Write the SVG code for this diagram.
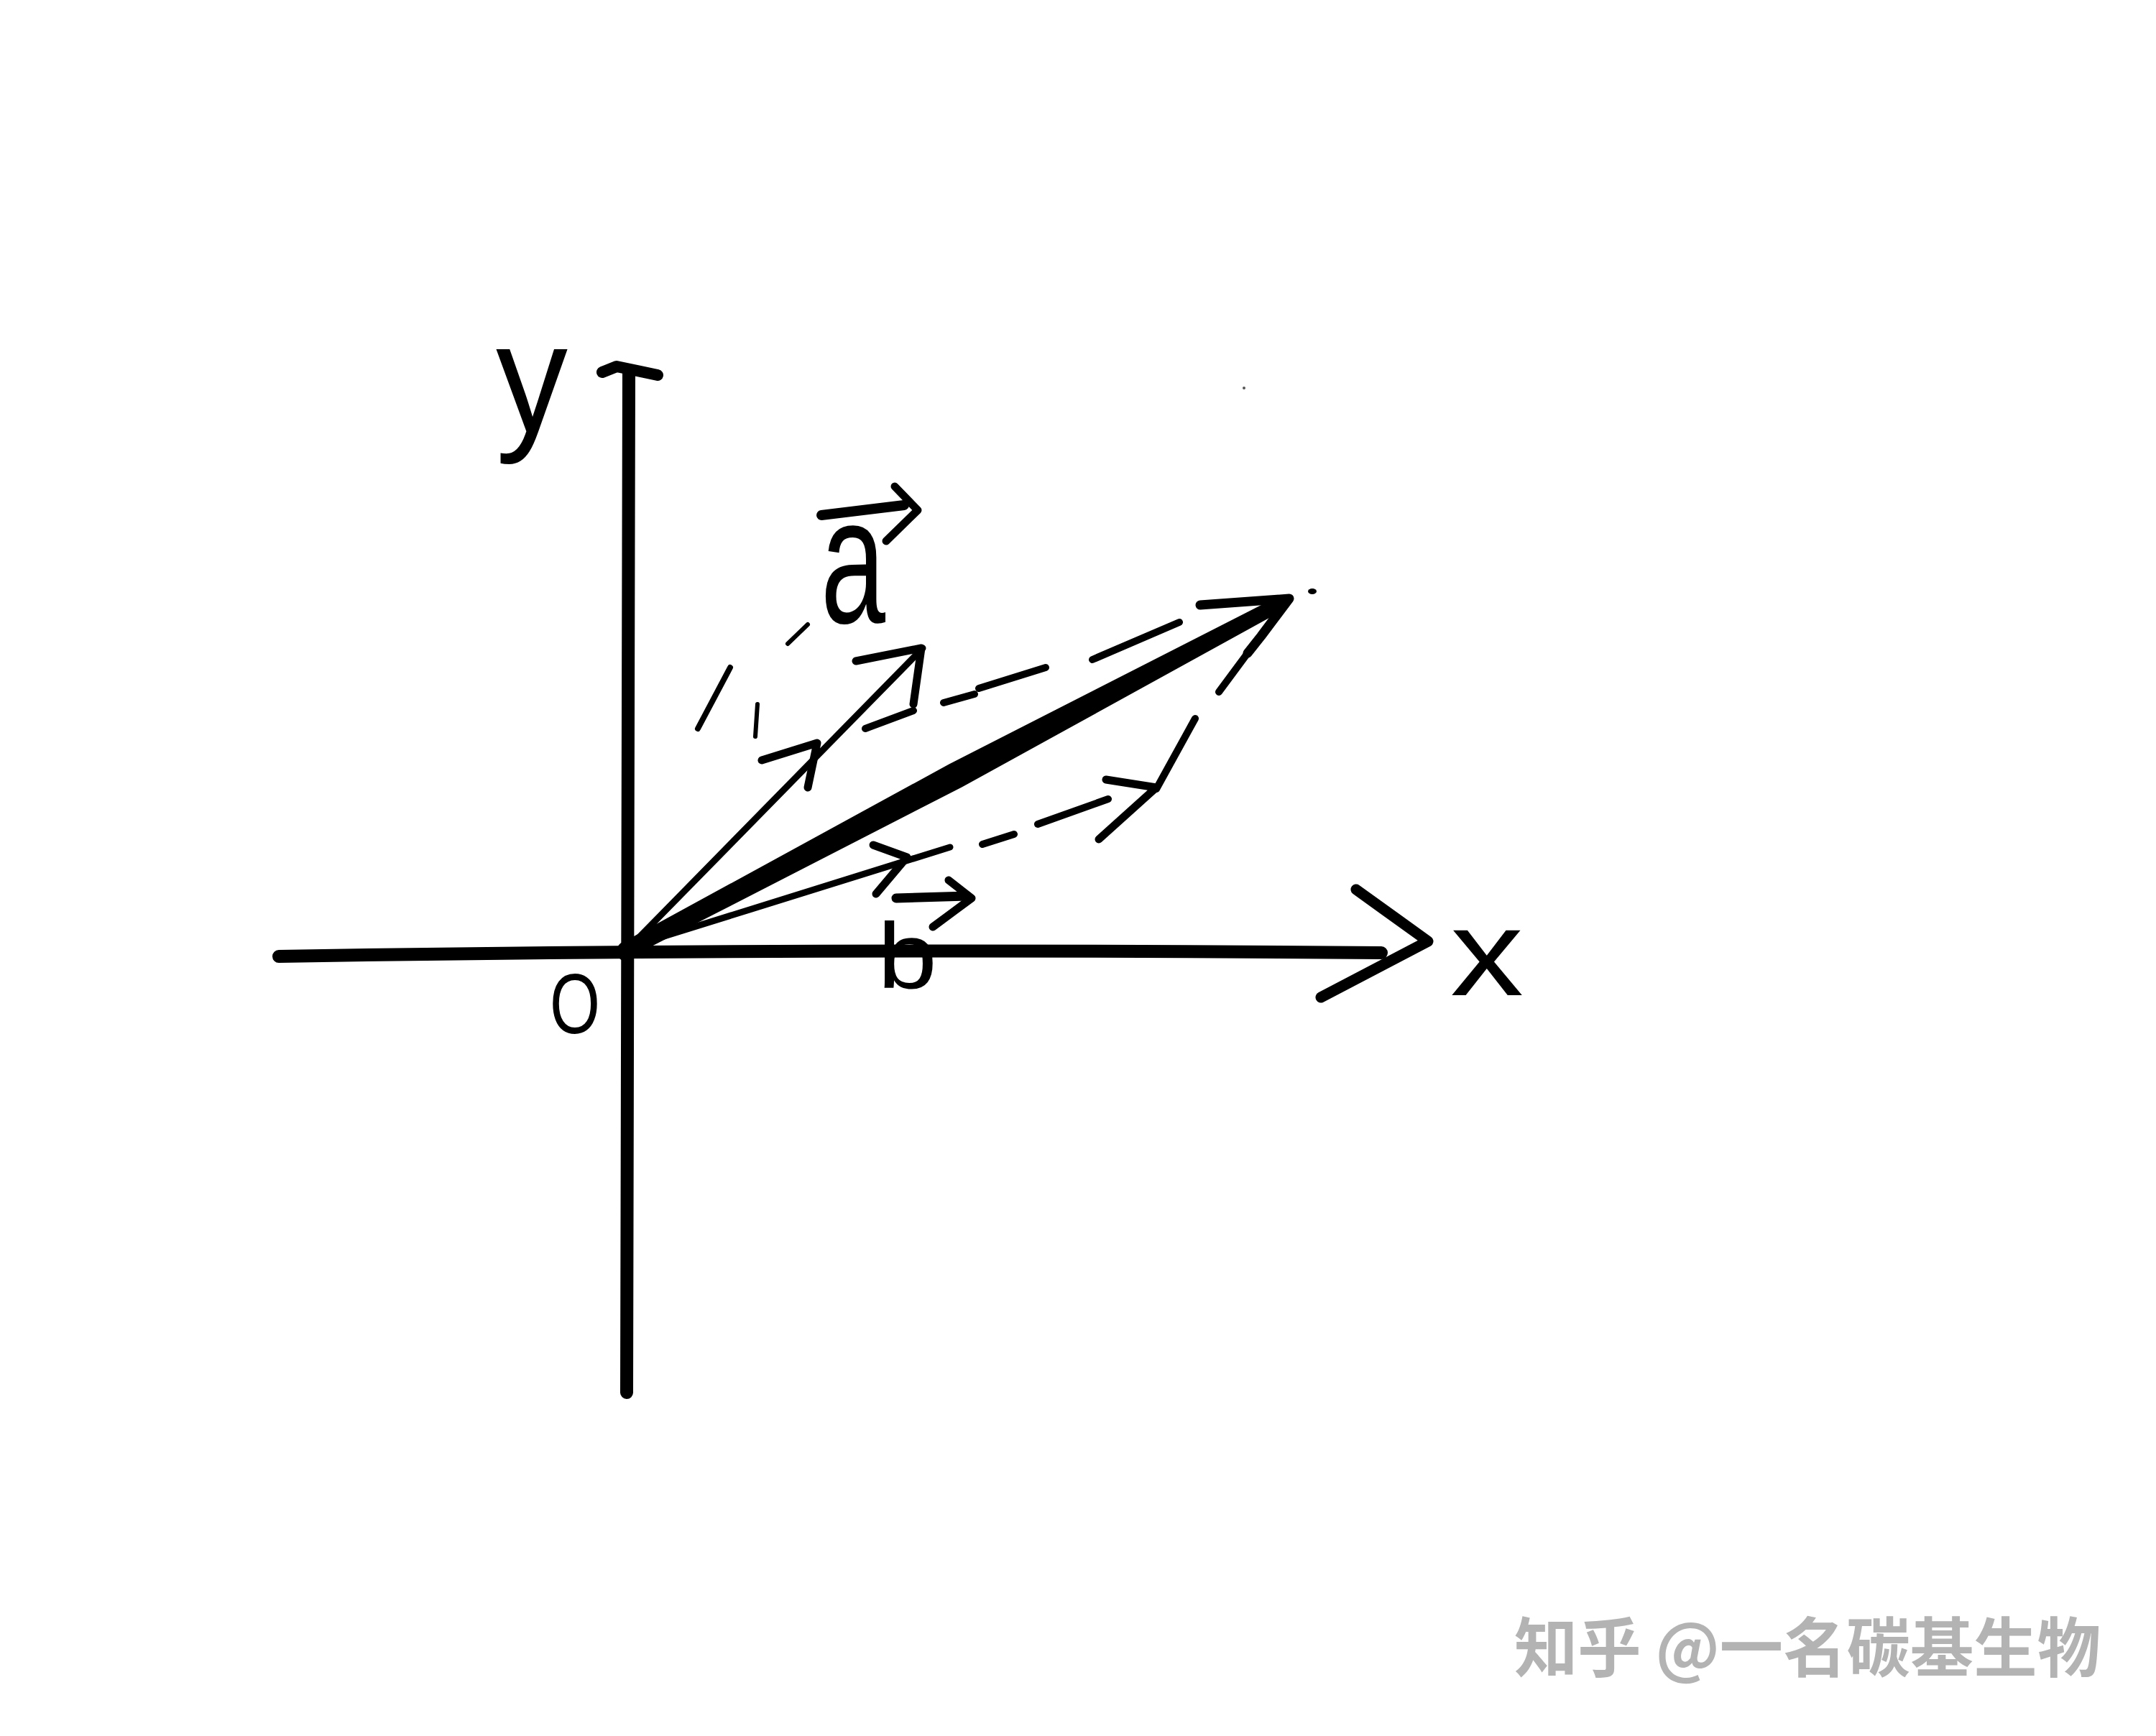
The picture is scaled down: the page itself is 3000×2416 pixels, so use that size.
<svg xmlns="http://www.w3.org/2000/svg" width="3000" height="2416" viewBox="0 0 3000 2416">
<style>
.ink{fill:none;stroke:#000;stroke-linecap:round;stroke-linejoin:round}
.axis{stroke-width:18}
.vec{stroke-width:9}
.barb{stroke-width:11}
.dash{stroke-width:10}
.lbl{font-family:"Liberation Sans","DejaVu Sans",sans-serif;fill:#000}
.wm{font-family:"Noto Sans CJK SC","Noto Sans",sans-serif;fill:#b3b3b3;font-weight:700}
</style>
<rect x="0" y="0" width="3000" height="2416" fill="#fff"/>
<g id="axes">
  <path class="ink axis" d="M388,1331 Q1100,1319 1922,1326"/>
  <path class="ink" stroke-width="15" d="M1887,1238 L1987,1310 L1838,1388"/>
  <path class="ink axis" d="M875,520 L872,1938"/>
  <path class="ink" stroke-width="16" d="M838,518 L858,510 L915,522"/>
  <circle cx="872" cy="1324" r="14" fill="#000"/>
</g>
<g id="label-y"><text class="lbl" x="690" y="601" font-size="218" textLength="100" lengthAdjust="spacingAndGlyphs">y</text></g>
<g id="label-x"><text class="lbl" x="2018" y="1385" font-size="170" textLength="102" lengthAdjust="spacingAndGlyphs">x</text></g>
<g id="label-o"><text class="lbl" x="765" y="1438" font-size="119" textLength="70" lengthAdjust="spacingAndGlyphs">O</text></g>
<g id="label-a">
  <path class="ink" stroke-width="14" d="M1143,717 L1258,703"/>
  <path class="ink barb" d="M1245,677 L1277,710 L1233,753"/>
  <text class="lbl" x="1142" y="867" font-size="250" textLength="90" lengthAdjust="spacingAndGlyphs">a</text>
</g>
<g id="label-b">
  <path class="ink" stroke-width="13" d="M1247,1250 L1346,1247"/>
  <path class="ink barb" d="M1320,1225 L1352,1250 L1298,1290"/>
  <text class="lbl" x="1221" y="1375" font-size="130" textLength="83" lengthAdjust="spacingAndGlyphs">b</text>
</g>
<g id="connectors">
  <path class="ink vec" d="M876,1318 L1284,902"/>
  <path class="ink barb" d="M1060,1058 L1137,1034 L1124,1096"/>
  <path class="ink barb" d="M1191,920 L1282,902 L1271,980"/>
  <path class="ink" stroke-width="8" d="M971,1014 L1016,929"/>
  <path class="ink" stroke="#777" stroke-width="6" d="M1051,1025 L1054,980"/>
  <path class="ink" stroke="#aaa" stroke-width="6" d="M1096,896 L1124,869"/>
  <path class="ink dash" d="M1204,1014 L1271,989 M1313,978 L1356,966 M1362,958 L1455,929 M1520,918 L1641,866"/>
  <path class="ink vec" stroke="#222" d="M876,1318 L1322,1179"/>
  <path class="ink barb" d="M1215,1176 L1262,1193 L1219,1244"/>
  <path class="ink dash" d="M1367,1175 L1411,1161 M1444,1147 L1542,1112"/>
  <path class="ink barb" d="M1539,1085 L1609,1096 L1529,1168"/>
  <path class="ink dash" d="M1609,1098 L1663,1000 M1696,963 L1736,909"/>
  <path fill="#000" stroke="#000" stroke-width="4" stroke-linejoin="round" d="M875,1331 L1337,1094 L1791,844 L1783,830 L1322,1065 L868,1313 Z"/>
  <path class="ink" stroke-width="13" d="M1670,842 L1794,833 L1755,885 L1736,909"/>
  <ellipse cx="1826" cy="823" rx="6" ry="4" fill="#000"/>
  <circle cx="1731" cy="540" r="2" fill="#555"/>
</g>
<g id="watermark"><text class="wm" x="2107" y="2326" font-size="90" textLength="816" lengthAdjust="spacingAndGlyphs">知乎 @一名碳基生物</text></g>
</svg>
